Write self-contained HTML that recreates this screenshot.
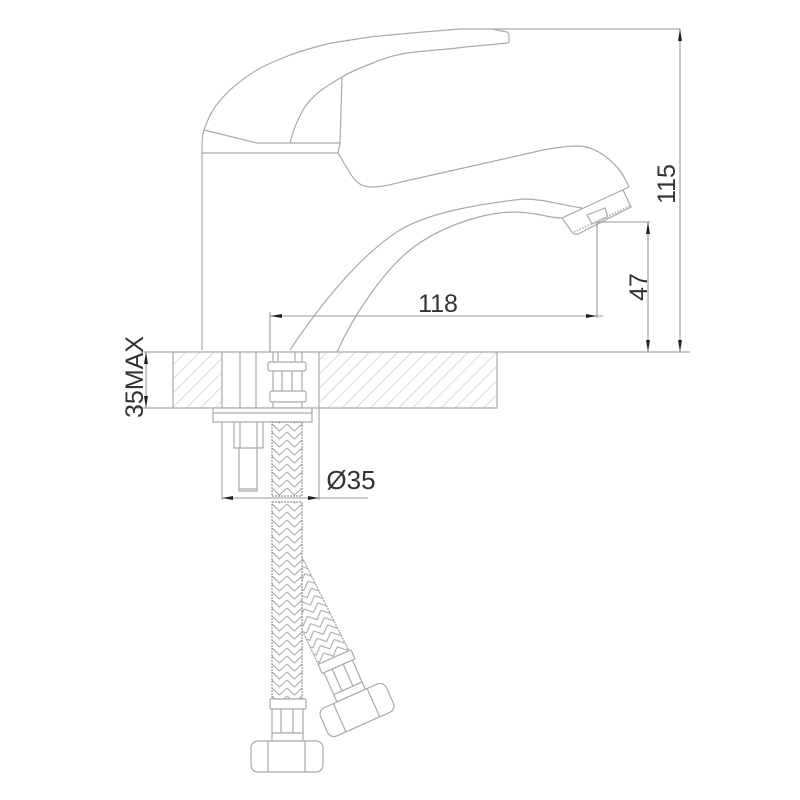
<!DOCTYPE html>
<html><head><meta charset="utf-8"><style>
html,body{margin:0;padding:0;background:#fff}
svg{display:block}
text{font-family:"Liberation Sans",sans-serif;font-size:25px;fill:#333}
</style></head><body>
<svg width="800" height="800" viewBox="0 0 800 800" xmlns="http://www.w3.org/2000/svg">
<defs>
<pattern id="hatch" width="10" height="10" patternUnits="userSpaceOnUse" patternTransform="rotate(45)">
<line x1="0" y1="0" x2="0" y2="10" stroke="#c4c4c4" stroke-width="1.2"/>
</pattern>
<pattern id="braid" width="15" height="8" patternUnits="userSpaceOnUse" x="272" y="0">
<polyline points="0,0 7.5,7 15,0" fill="none" stroke="#aaa" stroke-width="1.1"/>
<polyline points="0,8 7.5,15 15,8" fill="none" stroke="#aaa" stroke-width="1.1"/>
<polyline points="0,-8 7.5,-1 15,-8" fill="none" stroke="#aaa" stroke-width="1.1"/>
</pattern>
<pattern id="braid2" width="15" height="8" patternUnits="userSpaceOnUse" patternTransform="rotate(-24)">
<polyline points="0,0 7.5,7 15,0" fill="none" stroke="#aaa" stroke-width="1.1"/>
<polyline points="0,8 7.5,15 15,8" fill="none" stroke="#aaa" stroke-width="1.1"/>
<polyline points="0,-8 7.5,-1 15,-8" fill="none" stroke="#aaa" stroke-width="1.1"/>
</pattern>
<g id="nut" fill="#fff" stroke="#aaa" stroke-width="1.2">
<rect x="270" y="699" width="36" height="10" rx="1"/>
<rect x="272" y="709" width="31" height="24"/>
<line x1="281" y1="709" x2="281" y2="733"/>
<line x1="293" y1="709" x2="293" y2="733"/>
<rect x="272" y="733" width="31" height="8"/>
<rect x="251" y="741" width="72" height="31" rx="7"/>
<line x1="268" y1="741" x2="268" y2="772"/>
<line x1="305" y1="741" x2="305" y2="772"/>
</g>
</defs>

<!-- counter -->
<rect x="173" y="352" width="49" height="56" fill="url(#hatch)"/>
<rect x="319" y="352" width="178" height="56" fill="url(#hatch)"/>
<g fill="none" stroke="#aaa" stroke-width="1.2">
<path d="M140 352H690"/>
<path d="M132 408H497V352"/>
<path d="M173 352V408M222 352V500M319 352V500"/>
<path d="M240 352V408M256 352V408"/>
<rect x="213" y="408" width="99" height="14" fill="#fff"/>
<path d="M213 413H312"/>
<path d="M234 422V448H263V422M240 422V448M257 422V448"/>
<path d="M239 448V491H257V448M239 489H257"/>
</g>

<!-- faucet -->
<g fill="none" stroke="#aaa" stroke-width="1.2">
<path d="M202 350V153C202 143 202 137 204 130C207 122 209 116 213 110C218 102 224 96 230 90C238 83 247 76 257 70C267 64 278 60 290 55C301 51 312 48 323 45C334 42 346 41 357 39C368 37 379 36 390 35C401 34 412 33 423 32C435 31 448 30 460 29H680"/>
<path d="M492 29L507 32Q509 33 509 36V41Q509 43 507 43C490 45 473 46 457 48C440 50 423 51 407 53C395 55 384 58 373 63C362 67 352 71 342 77C325 87 312 95 303 110C296 122 293 132 290 143"/>
<path d="M204 130L257 143H340L342 77"/>
<path d="M202 153H338"/>
<path d="M340 143L338 153L350 173C356 183 362 187 372 187C385 187 395 183 410 180L530 153C550 148 565 146 580 146C600 148 620 165 629 187"/>
<path d="M629 187L562 218L572 232Q574 235 578 234L631 207L623 190"/>
<path d="M587 215L605 208L608 217L592 224Z"/>
<path d="M290 350C320 305 360 255 400 230C430 212 480 204 523 199C545 199 560 205 582 208"/>
<path d="M337 352C355 312 385 270 410 250C440 226 485 212 515 212C535 212 548 218 562 218"/>
</g>
<path d="M574 232L630 206" fill="none" stroke="#bbb" stroke-width="2" stroke-dasharray="1.5 1.5"/>

<!-- top connector -->
<g fill="#fff" stroke="#aaa" stroke-width="1.2">
<path d="M273 352V408M302 352V408M278 352V362M295 352V362M282 371V391M292 371V391" fill="none"/>
<rect x="268" y="362" width="38" height="9" rx="2"/>
<rect x="270" y="391" width="36" height="11" rx="2"/>
</g>

<!-- second hose -->
<path d="M302 557L352 657L319 666L302 630Z" fill="url(#braid2)" stroke="#999" stroke-width="1.1" stroke-dasharray="2 1"/>
<use href="#nut" transform="translate(357 710) rotate(-24) translate(-287 -756.5)"/>

<!-- main hose -->
<rect x="272" y="422" width="30" height="74" fill="url(#braid)" stroke="#999" stroke-width="1.2" stroke-dasharray="2 1"/>
<rect x="272" y="502" width="30" height="197" fill="url(#braid)" stroke="#999" stroke-width="1.2" stroke-dasharray="2 1"/>
<use href="#nut"/>

<!-- dimensions -->
<g fill="none" stroke="#999" stroke-width="1.1">
<path d="M680 29V352"/>
<path d="M597 318V222H650"/>
<path d="M648 222V352"/>
<path d="M270 352V312"/>
<path d="M270 316H603"/>
<path d="M146 352V408"/>
<path d="M222 498H368"/>
</g>
<g fill="#222">
<path d="M680 29L678 41H682Z"/>
<path d="M680 352L678 340H682Z"/>
<path d="M648 222L646 234H650Z"/>
<path d="M648 352L646 340H650Z"/>
<path d="M270 316L282 314V318Z"/>
<path d="M597 316L586 314V318Z"/>
<path d="M146 352L144 364H148Z"/>
<path d="M146 408L144 396H148Z"/>
<path d="M222 498L233 496V500Z"/>
<path d="M319 498L308 496V500Z"/>
</g>
<text x="438" y="312" text-anchor="middle">118</text>
<text transform="translate(675 184) rotate(-90)" text-anchor="middle">115</text>
<text transform="translate(647 287) rotate(-90)" text-anchor="middle">47</text>
<text transform="translate(143 377) rotate(-90)" text-anchor="middle">35MAX</text>
<text x="351" y="489" text-anchor="middle" style="font-size:26px">Ø35</text>
</svg>
</body></html>
